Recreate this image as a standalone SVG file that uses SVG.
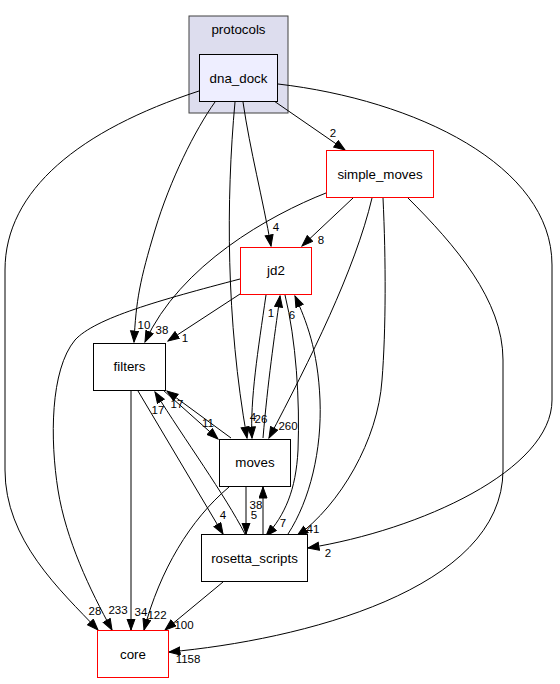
<svg xmlns="http://www.w3.org/2000/svg" width="560" height="684" viewBox="0 0 560 684">
<style>
.node rect{fill:#ffffff;stroke:#000000;stroke-width:1}
.node.red rect{stroke:#ff0000}
.node text,.cl text{font-family:"Liberation Sans",Arial,sans-serif;font-size:13.33px;text-anchor:middle;fill:#000}
.edges path{fill:none;stroke:#000;stroke-width:1;marker-end:url(#arr)}
.edges text{font-family:"Liberation Sans",Arial,sans-serif;font-size:11.5px;text-anchor:middle;fill:#000}
</style>
<defs>
<marker id="arr" markerUnits="userSpaceOnUse" markerWidth="13" markerHeight="10" refX="11.5" refY="4.5" orient="auto">
<path d="M0.5,0.5 L11.5,4.5 L0.5,8.5 z" fill="#000" stroke="#000" stroke-width="1"/>
</marker>
</defs>
<rect width="560" height="684" fill="#fff"/>
<g id="cluster_protocols" class="cl">
<rect x="189" y="16" width="99" height="97" fill="#ddddee" stroke="#404040" stroke-width="1"/>
<text x="238.5" y="33.5">protocols</text>
</g>
<g id="edges" class="edges">
<path d="M274,101 L345,150"/><text x="333" y="137">2</text>
<path d="M243,102 C250,150 263,200 271,246"/><text x="276" y="231">4</text>
<path d="M215,102 C195,130 170,180 155,230 S136,300 134,342"/><text x="144" y="329">10</text>
<path d="M235,102 C226,200 226,320 247,438"/><text x="253" y="421">4</text>
<path d="M278,84 C415,100 552,165 552,265 L552,400 C552,470 420,530 308,548"/><text x="328" y="557">2</text>
<path d="M199,91 C80,130 5,190 5,270 L5,470 C5,540 60,590 98,630"/><text x="95" y="615">28</text>
<path d="M326,193 C270,215 180,265 145,342"/><text x="162" y="334">38</text>
<path d="M353,198 L302,246"/><text x="321" y="244">8</text>
<path d="M372,198 C355,270 310,360 269,438"/><text x="288" y="430">260</text>
<path d="M383,198 C386,260 386,330 382,380 C378,440 340,505 297,536"/><text x="313" y="533">41</text>
<path d="M408,198 C455,245 503,300 503,360 L503,470 C503,590 300,640 169,652"/><text x="188" y="663">1158</text>
<path d="M240,294 L168,341"/><text x="185" y="342">1</text>
<path d="M240,279 C160,300 95,318 75,340 C50,370 50,440 58,490 C66,540 90,590 112,630"/><text x="118" y="614">233</text>
<path d="M266,295 C258,350 250,400 252,438"/><text x="261" y="423">26</text>
<path d="M285,295 C296,340 300,400 298,450 C296,490 285,515 266,536"/><text x="283" y="527">7</text>
<path d="M263,438 C268,380 274,340 280,296"/><text x="271" y="317">1</text>
<path d="M288,534 C310,500 322,450 320,400 C318,350 306,320 295,296"/><text x="292" y="319">6</text>
<path d="M163,390 L218,439"/><text x="208" y="427">11</text>
<path d="M231,438 L167,391"/><text x="177" y="408">17</text>
<path d="M245,534 C225,495 185,440 155,392"/><text x="158" y="414">17</text>
<path d="M138,391 L223,534"/><text x="223" y="519">4</text>
<path d="M246,487 L246,534"/><text x="254" y="519">5</text>
<path d="M263,534 L263,487"/><text x="256" y="509">38</text>
<path d="M131,391 L131,630"/><text x="141" y="616">34</text>
<path d="M229,487 C190,520 160,570 144,630"/><text x="157" y="619">122</text>
<path d="M223,582 L165,630"/><text x="184" y="629">100</text>
</g>
<g id="dna_dock" class="node">
<rect x="199.5" y="54.5" width="78" height="47" style="fill:#eeeeff"/>
<text x="238.5" y="82.5">dna_dock</text>
</g>
<g id="simple_moves" class="node red">
<rect x="326.5" y="150.5" width="107" height="47"/>
<text x="380" y="178.5">simple_moves</text>
</g>
<g id="jd2" class="node red">
<rect x="240.5" y="247.5" width="71" height="47"/>
<text x="276" y="275">jd2</text>
</g>
<g id="filters" class="node">
<rect x="93.5" y="343.5" width="72" height="47"/>
<text x="129.5" y="371">filters</text>
</g>
<g id="moves" class="node">
<rect x="219.5" y="439.5" width="71" height="47"/>
<text x="255" y="467">moves</text>
</g>
<g id="rosetta_scripts" class="node">
<rect x="201.5" y="534.5" width="106" height="47"/>
<text x="254.5" y="562.5">rosetta_scripts</text>
</g>
<g id="core" class="node red">
<rect x="97.5" y="630.5" width="71" height="47"/>
<text x="133" y="658.5">core</text>
</g>
</svg>
